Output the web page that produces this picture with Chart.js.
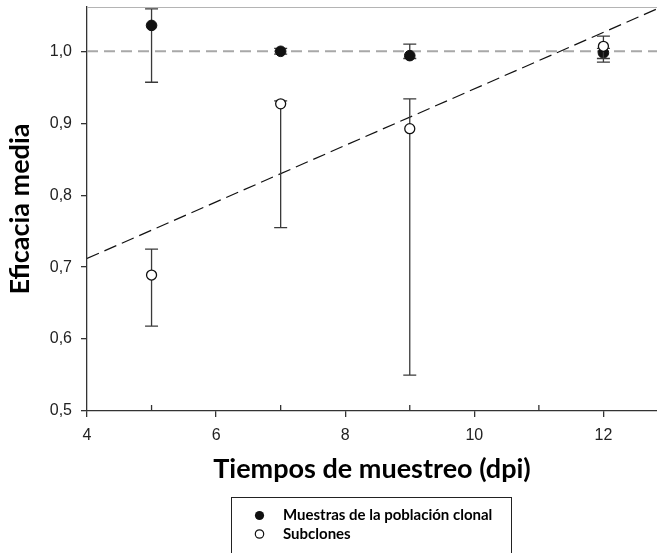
<!DOCTYPE html>
<html>
<head>
<meta charset="utf-8">
<script src="https://cdn.jsdelivr.net/npm/chart.js@4.4.1/dist/chart.umd.min.js"></script>
<style>
  html, body { margin: 0; padding: 0; background: #ffffff; overflow: hidden; }
  #wrap { width: 657px; height: 553px; position: relative; }
  canvas { display: block; }
</style>
</head>
<body>
<div id="wrap"><canvas id="c" width="657" height="553"></canvas></div>
<script>
// Sampling times (dpi) and mean fitness per group, with error-bar limits
const sampleTimes   = [5, 7, 9, 12];
const clonalMean    = [1.036, 1.000, 0.994, 0.998];
const clonalLow     = [0.957, 0.996, 0.990, 0.985];
const clonalHigh    = [1.059, 1.004, 1.010, 1.004];
const subcloneMean  = [0.689, 0.927, 0.8925, 1.007];
const subcloneLow   = [0.618, 0.755, 0.550, 0.990];
const subcloneHigh  = [0.725, 0.931, 0.934, 1.021];

// Fitted trend for the subclones (end points) and the neutral reference at 1,0
const trendX = [4, 12.83];
const trendY = [0.712, 1.059];
const refX   = [4, 12.83];
const refY   = [1.0, 1.0];

// Axis ticks
const xMajorTicks = [4, 6, 8, 10, 12];
const xMinorTicks = [5, 7, 9, 11];
const yTickValues = [0.5, 0.6, 0.7, 0.8, 0.9, 1.0];
const yTickLabels = ['0,5', '0,6', '0,7', '0,8', '0,9', '1,0'];

const seriesNames = ['Muestras de la población clonal', 'Subclones'];
const xTitle = 'Tiempos de muestreo (dpi)';
const yTitle = 'Eficacia media';

const toPoints = (xs, ys) => xs.map((x, i) => ({ x: x, y: ys[i] }));

const AXIS = '#333333';
const TITLE_FONT = { family: 'Lato, "Open Sans", sans-serif', weight: 'bold', size: 27 };
const TICK_FONT = { family: '"Liberation Sans", Arial, sans-serif', size: 16 };

// Vertical error bars with caps, drawn through the chart scales
const errorBars = {
  id: 'errorBars',
  beforeDatasetDraw(chart, args) {
    const ds = chart.data.datasets[args.index];
    if (!ds.errLow) return;
    const { ctx } = chart;
    const xs = chart.scales.x, ys = chart.scales.y;
    ctx.save();
    ctx.strokeStyle = '#3a3a3a';
    ctx.lineWidth = 1.3;
    ds.data.forEach((p, i) => {
      const px = xs.getPixelForValue(p.x);
      const yl = ys.getPixelForValue(ds.errLow[i]);
      const yh = ys.getPixelForValue(ds.errHigh[i]);
      ctx.beginPath();
      ctx.moveTo(px, yl); ctx.lineTo(px, yh);
      ctx.moveTo(px - 6.5, yl); ctx.lineTo(px + 6.5, yl);
      ctx.moveTo(px - 6.5, yh); ctx.lineTo(px + 6.5, yh);
      ctx.stroke();
    });
    ctx.restore();
  }
};

// Upper frame line and inward minor ticks on the time axis
const frame = {
  id: 'frame',
  afterDraw(chart) {
    const { ctx, chartArea } = chart;
    const xs = chart.scales.x;
    ctx.save();
    ctx.strokeStyle = '#b4b4b4';
    ctx.lineWidth = 1.2;
    ctx.beginPath();
    ctx.moveTo(chartArea.left, chartArea.top + 0.5);
    ctx.lineTo(chartArea.right, chartArea.top + 0.5);
    ctx.stroke();
    ctx.strokeStyle = AXIS;
    ctx.lineWidth = 1.3;
    ctx.beginPath();
    xMinorTicks.forEach(v => {
      const px = xs.getPixelForValue(v);
      ctx.moveTo(px, chartArea.bottom);
      ctx.lineTo(px, chartArea.bottom - 6);
    });
    ctx.stroke();
    ctx.restore();
  }
};

// Boxed legend under the time axis
const boxLegend = {
  id: 'boxLegend',
  afterDraw(chart) {
    const { ctx } = chart;
    ctx.save();
    ctx.strokeStyle = '#222';
    ctx.lineWidth = 1;
    ctx.strokeRect(231.5, 497.5, 280, 80);
    ctx.font = 'bold 15px Lato, "Open Sans", sans-serif';
    ctx.textBaseline = 'middle';
    ctx.textAlign = 'left';
    const rows = [515.5, 534];
    // filled marker
    ctx.beginPath();
    ctx.arc(259.5, rows[0], 4.6, 0, Math.PI * 2);
    ctx.fillStyle = '#111';
    ctx.fill();
    // open marker
    ctx.beginPath();
    ctx.arc(259.5, rows[1], 4.2, 0, Math.PI * 2);
    ctx.fillStyle = '#fff';
    ctx.fill();
    ctx.strokeStyle = '#111';
    ctx.lineWidth = 1.2;
    ctx.stroke();
    ctx.fillStyle = '#000';
    ctx.fillText(seriesNames[0], 283, rows[0]);
    ctx.fillText(seriesNames[1], 283, rows[1]);
    ctx.restore();
  }
};

new Chart(document.getElementById('c'), {
  type: 'scatter',
  data: {
    datasets: [
      {
        type: 'line', label: 'ref', data: toPoints(refX, refY),
        borderColor: '#a8a8a8', borderWidth: 2, borderDash: [11, 6],
        pointRadius: 0, fill: false, order: 3
      },
      {
        type: 'line', label: 'trend', data: toPoints(trendX, trendY),
        borderColor: '#111', borderWidth: 1.2, borderDash: [13, 6],
        pointRadius: 0, fill: false, order: 2
      },
      {
        label: seriesNames[0], data: toPoints(sampleTimes, clonalMean),
        errLow: clonalLow, errHigh: clonalHigh,
        pointRadius: 5.3, backgroundColor: '#111', borderColor: '#111', borderWidth: 1,
        order: 1
      },
      {
        label: seriesNames[1], data: toPoints(sampleTimes, subcloneMean),
        errLow: subcloneLow, errHigh: subcloneHigh,
        pointRadius: 5, backgroundColor: '#fff', borderColor: '#111', borderWidth: 1.3,
        order: 0
      }
    ]
  },
  options: {
    responsive: false,
    animation: false,
    devicePixelRatio: 1,
    layout: { autoPadding: false, padding: { left: 0, top: 7, right: 0, bottom: 0 } },
    plugins: { legend: { display: false }, tooltip: { enabled: false } },
    scales: {
      x: {
        type: 'linear', min: 4, max: 12.83,
        afterBuildTicks: s => { s.ticks = xMajorTicks.map(v => ({ value: v })); },
        afterFit: s => { s.height = 142; s.paddingLeft = 0; s.paddingRight = 0; },
        ticks: { callback: (v, i) => String(xMajorTicks[i]), color: '#222', font: TICK_FONT, padding: 9, maxRotation: 0, autoSkip: false },
        grid: { drawOnChartArea: false, tickLength: 6, color: AXIS, lineWidth: 1.3 },
        border: { color: AXIS, width: 1.3 },
        title: { display: true, text: xTitle, color: '#000', font: TITLE_FONT, padding: { top: 0, bottom: 68 } }
      },
      y: {
        min: 0.5, max: 1.0616,
        afterBuildTicks: s => { s.ticks = yTickValues.map(v => ({ value: v })); },
        afterFit: s => { s.width = 87; s.paddingTop = 0; s.paddingBottom = 0; },
        ticks: { callback: (v, i) => yTickLabels[i], color: '#222', font: TICK_FONT, padding: 9, autoSkip: false },
        grid: { drawOnChartArea: false, tickLength: 6, color: AXIS, lineWidth: 1.3 },
        border: { color: AXIS, width: 1.3 },
        title: { display: true, text: yTitle, color: '#000', font: TITLE_FONT, padding: { top: 4, bottom: 0 } }
      }
    }
  },
  plugins: [errorBars, frame, boxLegend]
});
</script>
</body>
</html>
